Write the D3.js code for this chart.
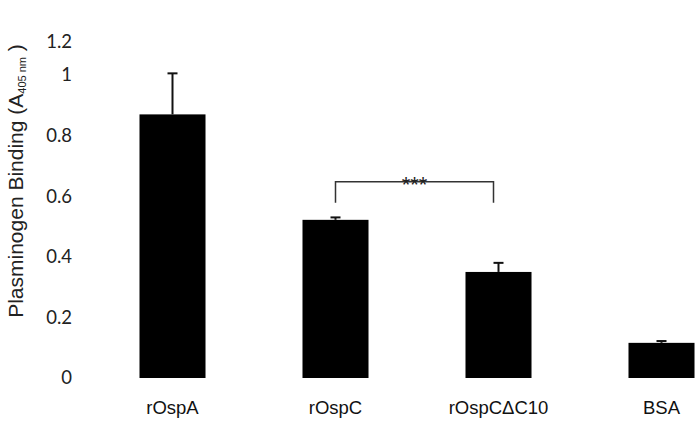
<!DOCTYPE html>
<meta charset="utf-8">
<head>
  <title>Plasminogen binding</title>
</head>

<style>
body {
  margin: 0;
  background: #fff;
}
</style>

<body>
  <div id="chart"></div>

  <script src="https://cdnjs.cloudflare.com/ajax/libs/d3/7.8.5/d3.min.js"></script>

  <script>
var categories = ['rOspA', 'rOspC', 'rOspC\u0394C10', 'BSA'];
var values = [0.87, 0.522, 0.35, 0.116];
var errors = [0.14, 0.008, 0.03, 0.006];
var tickValues = [0, 0.2, 0.4, 0.6, 0.8, 1, 1.2];
// significance bracket between rOspC and rOspCΔC10
var bracket = {from: 'rOspC', to: 'rOspC\u0394C10', top: 0.648, leg: 0.578, label: '***'};

var width = 698, height = 427;

var svg = d3.select('#chart').append('svg')
  .attr('width', width)
  .attr('height', height);

var x = d3.scaleBand()
  .domain(categories)
  .range([91, 743])
  .paddingInner(0.595)
  .paddingOuter(0.2975);

// top of the axis is squeezed in the original figure
var y = d3.scaleLinear()
  .domain([0, 1, 1.2])
  .range([378, 75, 42]);

// tick labels
svg.append('g')
  .selectAll('text')
  .data(tickValues)
  .enter().append('text')
  .attr('x', 72)
  .attr('y', function(d) { return y(d); })
  .attr('dy', '0.35em')
  .attr('text-anchor', 'end')
  .style('font-family', 'Lato, "Open Sans", sans-serif')
  .style('font-size', '18.5px')
  .style('fill', '#222')
  .text(function(d) { return d; });

// y title
var title = svg.append('text')
  .attr('transform', 'translate(23,181) rotate(-90)')
  .attr('text-anchor', 'middle')
  .style('font-family', '"Liberation Sans", Arial, sans-serif')
  .style('font-size', '21px')
  .style('fill', '#222');
title.append('tspan').text('Plasminogen Binding (A');
title.append('tspan').attr('dy', 3).style('font-size', '11px').text('405 nm');
title.append('tspan').attr('dy', -3).text(' )');

// bars
svg.append('g')
  .selectAll('rect')
  .data(values)
  .enter().append('rect')
  .attr('x', function(d, i) { return x(categories[i]); })
  .attr('y', function(d) { return y(d); })
  .attr('width', x.bandwidth())
  .attr('height', function(d) { return y(0) - y(d); })
  .attr('fill', '#000');

// error bars (upper only)
var eb = svg.append('g')
  .attr('stroke', '#111')
  .attr('stroke-width', 2);

values.forEach(function(v, i) {
  var cx = x(categories[i]) + x.bandwidth() / 2;
  eb.append('line')
    .attr('x1', cx).attr('x2', cx)
    .attr('y1', y(v)).attr('y2', y(v + errors[i]));
  eb.append('line')
    .attr('x1', cx - 5).attr('x2', cx + 5)
    .attr('y1', y(v + errors[i])).attr('y2', y(v + errors[i]));
});

// significance bracket
var bx1 = x(bracket.from) + x.bandwidth() / 2,
    bx2 = x(bracket.to) + x.bandwidth() / 2 - 5;
svg.append('path')
  .attr('d', 'M' + bx1 + ',' + y(bracket.leg) + 'V' + y(bracket.top) +
             'H' + bx2 + 'V' + y(bracket.leg))
  .attr('fill', 'none')
  .attr('stroke', '#333')
  .attr('stroke-width', 1.5);
svg.append('text')
  .attr('x', (bx1 + bx2) / 2)
  .attr('y', y(bracket.top) + 10)
  .attr('text-anchor', 'middle')
  .style('font-family', '"Liberation Sans", Arial, sans-serif')
  .style('font-size', '22px')
  .style('fill', '#222')
  .text(bracket.label);

// category labels
svg.append('g')
  .selectAll('text')
  .data(categories)
  .enter().append('text')
  .attr('x', function(d) { return x(d) + x.bandwidth() / 2; })
  .attr('y', 414)
  .attr('text-anchor', 'middle')
  .style('font-family', '"Liberation Sans", Arial, sans-serif')
  .style('font-size', '18.5px')
  .style('fill', '#111')
  .text(function(d) { return d; });
  </script>
</body>
</html>
